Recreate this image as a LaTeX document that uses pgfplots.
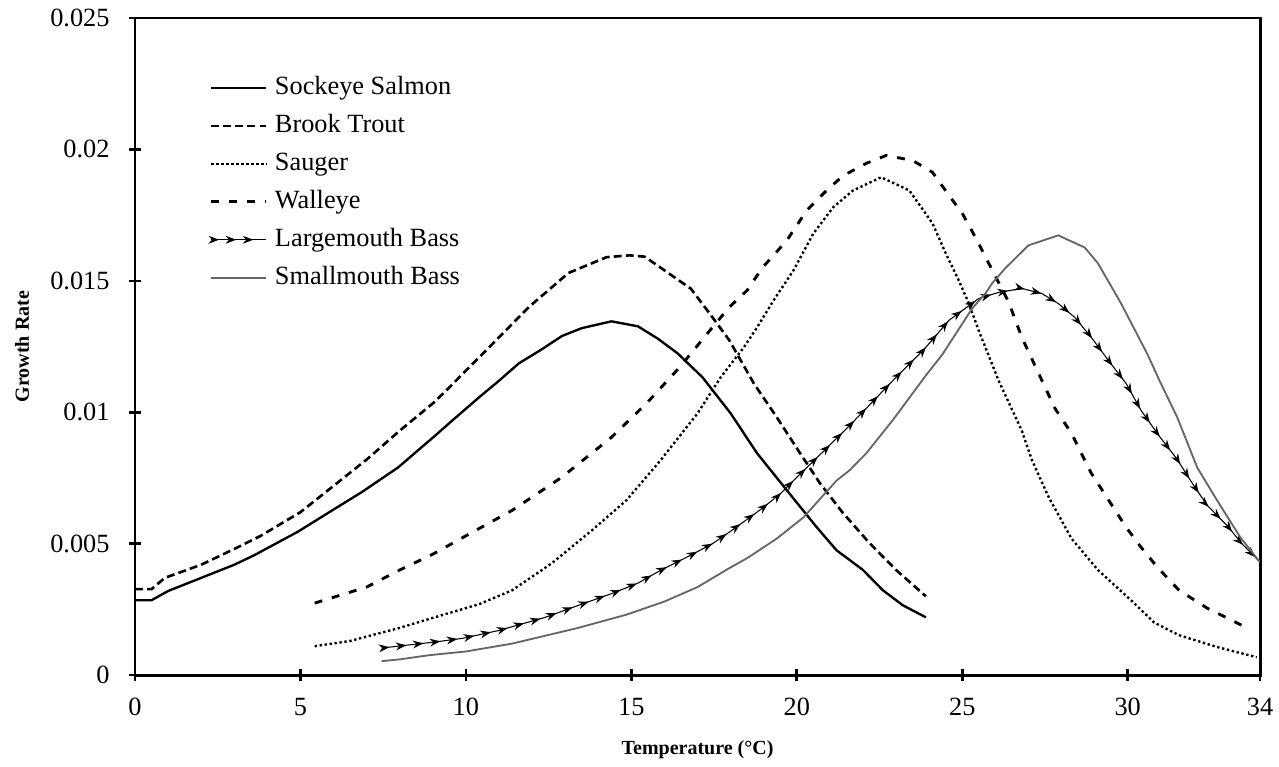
\documentclass[border=0pt]{standalone}
\usepackage{fontspec}
\setmainfont{Liberation Serif}
\usepackage{pgfplots}
\pgfplotsset{compat=1.18}
\usetikzlibrary{decorations.markings,arrows.meta}

% growth rate curves
\begin{document}
\begin{tikzpicture}
\begin{axis}[
  scale only axis, width=427.5pt, height=249.7pt,
  xmin=0, xmax=34, ymin=0, ymax=0.025,
  scaled y ticks=false,
  xtick={0,5,10,15,20,25,30,34},
  xticklabels={0,5,10,15,20,25,30,34},
  ytick={0,0.005,0.01,0.015,0.02,0.025},
  yticklabels={0,0.005,0.01,0.015,0.02,0.025},
  tick pos=left, tick align=center, major tick length=4.5pt,
  axis line style={line width=1.1pt},
  every tick/.style={black, line width=1pt},
  ticklabel style={font=\fontsize{10}{12}\selectfont},
  xticklabel style={yshift=-3pt},
  yticklabel style={xshift=-3.9pt},
  xlabel={Temperature (°C)}, ylabel={Growth Rate},
  label style={font=\bfseries\fontsize{7.6}{9}\selectfont},
  xlabel style={at={(axis description cs:0.5,-0.1135)}, anchor=center},
  ylabel style={at={(axis description cs:-0.1004,0.5)}, anchor=center},
  legend image code/.code={\draw[#1] (0pt,0pt) -- (21pt,0pt);},
  legend cell align=left,
  legend style={draw=none, fill=none, at={(axis description cs:0.0649,0.912)},
    anchor=north west, inner sep=0pt, row sep=5.4pt, column sep=2.7pt,
    font=\fontsize{10}{12}\selectfont,
    nodes={inner sep=0pt, text height=7pt, text depth=2pt}},
]
% Sockeye Salmon
\addplot[black, line width=0.9pt] coordinates {
 (0,0.00285) (0.5,0.00285) (1,0.0032) (2,0.0037) (3,0.0042) (3.6,0.00456)
 (4.9,0.00544) (6,0.0063) (6.85,0.00696) (7.95,0.0079) (9.06,0.0091) (9.6,0.0097)
 (10.4,0.01057) (11,0.0112) (11.6,0.01186) (12.3,0.0124) (12.9,0.0129) (13.5,0.0132)
 (14.4,0.01346) (15.2,0.01327) (15.8,0.0128) (16.4,0.01224) (17.15,0.01133) (18,0.00996)
 (18.8,0.00844) (19.7,0.00703) (20.6,0.00563) (21.2,0.00475) (22,0.0040) (22.6,0.00323)
 (23.2,0.00266) (23.9,0.0022)};
\addlegendentry{Sockeye Salmon}
% Brook Trout
\addplot[black, line width=1pt, dash pattern=on 3pt off 1.6pt] coordinates {
 (0,0.00327) (0.5,0.00327) (0.9,0.0037) (2,0.0042) (3,0.0048) (3.8,0.0053)
 (5,0.0062) (6,0.0072) (7,0.0082) (8,0.0093) (9.06,0.0104) (9.5,0.01095)
 (10.7,0.01247) (11.9,0.0140) (13.1,0.0153) (14.25,0.0159) (14.95,0.01597) (15.4,0.01592)
 (16.0,0.0154) (16.8,0.0147) (17.4,0.0137) (17.96,0.01274) (18.7,0.0111) (19.4,0.0098)
 (20.1,0.00844) (20.7,0.0073) (21.4,0.00616) (22.2,0.00502) (23.0,0.0040) (23.9,0.0030)};
\addlegendentry{Brook Trout}
% Sauger
\addplot[black, line width=0.9pt, dash pattern=on 0.9pt off 1pt] coordinates {
 (5.43,0.0011) (6.5,0.0013) (7.4,0.0016) (7.95,0.00178) (9.06,0.0022) (10.4,0.0027)
 (11.4,0.00323) (12.6,0.00426) (13.8,0.0055) (14.85,0.00665) (15.9,0.0082) (17.0,0.00996)
 (17.7,0.01133) (18.4,0.01247) (18.8,0.01323) (19.3,0.01426) (19.9,0.0154) (20.5,0.0168)
 (21.1,0.0178) (21.7,0.01844) (22.55,0.01894) (23.4,0.01844) (24.1,0.01719) (24.5,0.01605)
 (24.9,0.0150) (25.2,0.01414) (25.5,0.0131) (26.1,0.0112) (26.8,0.0093) (27.1,0.0082)
 (27.6,0.0068) (28.3,0.0052) (29.1,0.0040) (30.1,0.00285) (30.8,0.0020) (31.55,0.00152)
 (32.7,0.00107) (33.9,0.00068)};
\addlegendentry{Sauger}
% Walleye
\addplot[black, line width=1.1pt, dash pattern=on 3pt off 3.8pt] coordinates {
 (5.43,0.00274) (7.0,0.00335) (8,0.0040) (9.0,0.0046) (10,0.0053) (11.4,0.00627)
 (12.9,0.00753) (14.4,0.00905) (15.46,0.01034) (16.45,0.0117) (17.45,0.01323) (17.96,0.0140)
 (18.5,0.01464) (18.96,0.0155) (19.7,0.01654) (20.3,0.01768) (20.9,0.01844) (21.4,0.0190)
 (22.1,0.01947) (22.7,0.01977) (23.5,0.01958) (24.1,0.01913) (24.6,0.01825) (25.0,0.01757)
 (25.4,0.01665) (25.8,0.01567) (26.4,0.0142) (26.8,0.01285) (27.3,0.0115) (27.8,0.01015)
 (28.3,0.0092) (28.9,0.00768) (29.35,0.0068) (29.95,0.00563) (30.4,0.00487) (30.9,0.0041)
 (31.55,0.00323) (32.4,0.00255) (33.6,0.0018)};
\addlegendentry{Walleye}
% Largemouth Bass
\addplot[black, line width=0.4pt, postaction={decorate},
  decoration={markings, mark=between positions 3pt and 1 step 6.5pt with {\arrow{Stealth[length=4pt,width=3pt]}}}]
 coordinates {
 (7.45,0.00103) (9.06,0.00126) (9.9,0.0014) (11,0.0017) (12.4,0.0022) (13.5,0.0027)
 (14.4,0.0031) (15.2,0.0035) (15.9,0.0040) (16.7,0.0045) (17.45,0.0050) (17.96,0.00544)
 (18.96,0.00635) (19.5,0.0069) (19.9,0.0074) (20.9,0.00863) (21.6,0.0095) (21.9,0.00989)
 (22.9,0.0112) (23.9,0.01247) (24.6,0.0135) (25.5,0.01433) (26.1,0.01456) (26.8,0.01471)
 (27.4,0.01452) (27.9,0.01414) (28.4,0.01361) (28.9,0.01285) (29.4,0.0120) (29.95,0.0111)
 (30.4,0.01008) (30.95,0.0091) (31.5,0.0082) (31.9,0.0074) (32.4,0.00646) (33.0,0.0057)
 (33.45,0.0050) (34,0.0043)};
\addlegendentry{Largemouth Bass}
% Smallmouth Bass
\addplot[black!60, line width=0.7pt] coordinates {
 (7.45,0.00053) (8.0,0.0006) (8.9,0.00076) (10,0.0009) (11.4,0.0012) (13.4,0.0018)
 (14.85,0.0023) (16,0.0028) (17.0,0.00335) (17.96,0.00407) (18.5,0.00445) (19.4,0.0052)
 (20.2,0.0060) (21.2,0.0074) (21.6,0.0078) (22.1,0.00844) (22.9,0.0097) (23.9,0.0114)
 (24.4,0.0122) (25.3,0.01395) (25.7,0.01452) (25.9,0.0149) (26.3,0.01548) (27.0,0.01635)
 (27.9,0.01673) (28.7,0.01627) (29.1,0.01567) (29.8,0.01414) (30.6,0.0122) (31.0,0.0111)
 (31.5,0.0098) (32.1,0.0079) (32.7,0.00665) (33.4,0.00525) (33.9,0.00445) (34,0.0043)};
\addlegendentry{Smallmouth Bass}
\coordinate (sw) at (rel axis cs:0,0);
\coordinate (ne) at (rel axis cs:1,1);
\end{axis}
\pgfresetboundingbox
\path[use as bounding box] ([shift={(-51.3pt,-34.6pt)}]sw) rectangle ([shift={(7.2pt,6.84pt)}]ne);
\end{tikzpicture}
\end{document}
